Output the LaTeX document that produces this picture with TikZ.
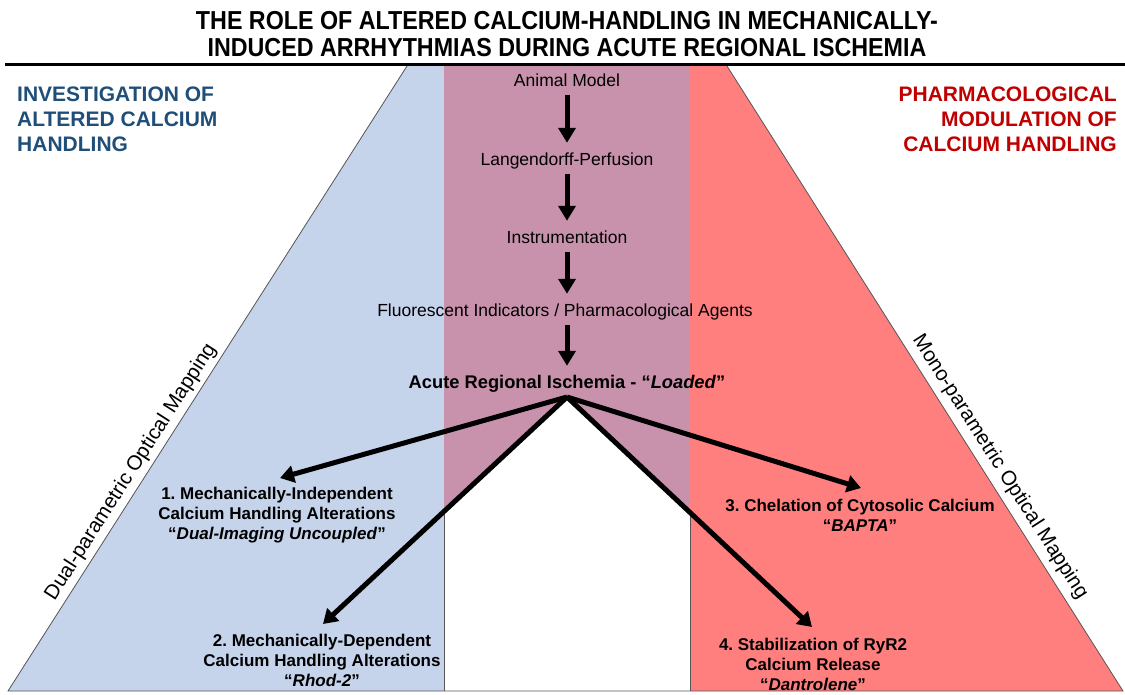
\documentclass[tikz,border=0pt]{standalone}
\usepackage{fontspec}
\setmainfont{Liberation Sans}
\newfontfamily\titlefont{Liberation Sans}[FakeStretch=0.895]
\usetikzlibrary{arrows.meta}
\definecolor{bluefill}{RGB}{197,211,235}
\definecolor{purplefill}{RGB}{200,146,172}
\definecolor{redfill}{RGB}{255,127,127}
\definecolor{headblue}{RGB}{31,78,121}
\definecolor{headred}{RGB}{192,0,0}
\definecolor{edgegray}{RGB}{85,85,85}
\frenchspacing
\begin{document}
\begin{tikzpicture}[x=1pt,y=-1pt,
  titletext/.style={font=\titlefont\bfseries\fontsize{26}{27}\selectfont, inner sep=0pt, anchor=base},
  header/.style={font=\bfseries\fontsize{21}{25}\selectfont, inner sep=0pt},
  flow/.style={font=\fontsize{17.5}{19}\selectfont, inner sep=0pt, anchor=base, text height=12pt, text depth=3.5pt},
  flowbold/.style={flow, font=\bfseries\fontsize{18.3}{19}\selectfont},
  outcome/.style={font=\bfseries\fontsize{17}{20}\selectfont, align=center, inner sep=0pt},
  sidelabel/.style={font=\fontsize{20.5}{24}\selectfont, inner sep=0pt},
  bigarrow/.style={line width=5pt, -{Triangle[length=15pt,width=17pt]}, shorten <=5pt, shorten >=10pt},
  diagarrow/.style={line width=5pt, -{Triangle[length=14pt,width=17pt]}},
  edge/.style={draw=edgegray, line width=0.8pt}
]
\useasboundingbox (0,0) rectangle (1125,694);
% background panels
\fill[bluefill] (407,66) -- (444,66) -- (444,691) -- (8,691) -- cycle;
\fill[redfill] (690,66) -- (727,66) -- (1123,691) -- (690,691) -- cycle;
\fill[purplefill] (444,66) rectangle (690,691);
\fill[white] (567,397) -- (444,512.5) -- (444,691) -- (690,691) -- (690,512.5) -- cycle;
\draw[edge] (407,66) -- (8,691) -- (1123,691) -- (727,66);
\draw[edge] (444,512.5) -- (444,691);
\draw[edge] (690,512.5) -- (690,691);
% title
\node[titletext] (title1) at (567,29) {THE ROLE OF ALTERED CALCIUM-HANDLING IN MECHANICALLY-};
\node[titletext] (title2) at (567,56) {INDUCED ARRHYTHMIAS DURING ACUTE REGIONAL ISCHEMIA};
\draw[line width=3pt] (5,64.5) -- (1125,64.5);
% headers
\node[header, text=headblue, anchor=north west, align=left] (invest) at (17,87)
  {INVESTIGATION OF\\ALTERED CALCIUM\\HANDLING};
\node[header, text=headred, anchor=north east, align=right] (pharm) at (1117,87)
  {PHARMACOLOGICAL\\MODULATION OF\\CALCIUM HANDLING};
% side labels
\node[sidelabel, rotate=57.4] (dual) at (131,472) {Dual-parametric Optical Mapping};
\node[sidelabel, rotate=-57.4] (mono) at (1000,467) {Mono-parametric Optical Mapping};
% flow
\node[flow] (animal) at (567,86) {Animal Model};
\node[flow] (lang) at (567,165) {Langendorff-Perfusion};
\node[flow] (instr) at (567,243) {Instrumentation};
\node[flow] (fluo) at (565,316) {Fluorescent Indicators / Pharmacological Agents};
\node[flowbold] (acute) at (567,388) {Acute Regional Ischemia - “\textit{Loaded}”};
\draw[bigarrow] (animal) -- (lang);
\draw[bigarrow] (lang) -- (instr);
\draw[bigarrow] (instr) -- (fluo.north -| instr);
\draw[bigarrow] (fluo.south -| acute) -- (acute);
% outcomes
\coordinate (apex) at (567,397);
\node[outcome] (o1) at (277,515) {1. Mechanically-Independent\\Calcium Handling Alterations\\“\textit{Dual-Imaging Uncoupled}”};
\node[outcome] (o2) at (322,660) {2. Mechanically-Dependent\\Calcium Handling Alterations\\“\textit{Rhod-2}”};
\node[outcome] (o3) at (860,515) {3. Chelation of Cytosolic Calcium\\“\textit{BAPTA}”};
\node[outcome] (o4) at (813,664) {4. Stabilization of RyR2\\Calcium Release\\“\textit{Dantrolene}”};
\coordinate (t1) at (280,478);
\coordinate (t2) at (323,624);
\coordinate (t3) at (861,488);
\coordinate (t4) at (812,627);
\draw[diagarrow] (apex) -- (t1);
\draw[diagarrow] (apex) -- (t2);
\draw[diagarrow] (apex) -- (t3);
\draw[diagarrow] (apex) -- (t4);
\end{tikzpicture}
\end{document}
